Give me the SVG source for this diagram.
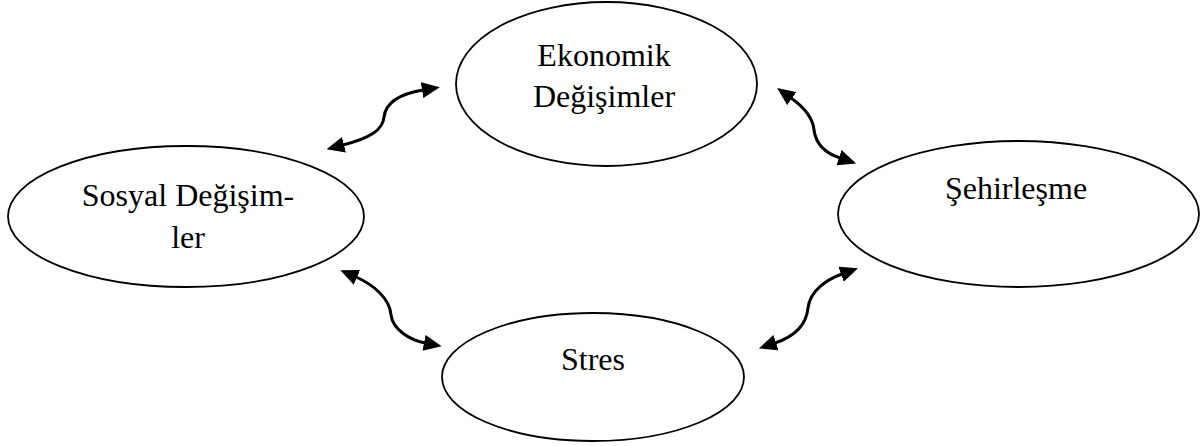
<svg xmlns="http://www.w3.org/2000/svg" width="1202" height="446" viewBox="0 0 1202 446">
  <style>
    .node { fill: #ffffff; stroke: #000000; stroke-width: 1.8; }
    .label { font-family: "Liberation Serif", "Times New Roman", serif; font-size: 32px; fill: #000000; text-anchor: middle; }
    .link { fill: none; stroke: #000000; stroke-width: 3; }
  </style>
  <defs>
    <!-- filled triangular head, base placed at the path end -->
    <marker id="head" viewBox="0 0 18 16" refX="1" refY="8" markerWidth="18" markerHeight="16" markerUnits="userSpaceOnUse" orient="auto-start-reverse">
      <path d="M0,0 L18,8 L0,16 z" fill="#000000"/>
    </marker>
  </defs>
  <rect width="1202" height="446" fill="#ffffff"/>

  <g id="ekonomik">
    <ellipse class="node" cx="606.5" cy="84" rx="150.5" ry="82"/>
    <text class="label" x="604" y="66">Ekonomik</text>
    <text class="label" x="604" y="107">Değişimler</text>
  </g>

  <g id="sosyal">
    <ellipse class="node" cx="186" cy="216.5" rx="178" ry="70.5"/>
    <text class="label" x="188" y="206">Sosyal Değişim-</text>
    <text class="label" x="188" y="248">ler</text>
  </g>

  <g id="sehirlesme">
    <ellipse class="node" cx="1018.5" cy="214" rx="180.5" ry="73"/>
    <text class="label" x="1016" y="199">Şehirleşme</text>
  </g>

  <g id="stres">
    <ellipse class="node" cx="593" cy="377" rx="151" ry="64"/>
    <text class="label" x="593" y="370">Stres</text>
  </g>

  <g id="connectors">
    <path class="link" d="M343,145 C370,138 383,130 384,117 C386,100 405,93 423,90" marker-start="url(#head)" marker-end="url(#head)"/>
    <path class="link" d="M791,98 C805,108 813,118 814,130 C816,146 828,154 840,158" marker-start="url(#head)" marker-end="url(#head)"/>
    <path class="link" d="M356,277 C372,284 390,298 391,315 C393,330 410,340 425,343" marker-start="url(#head)" marker-end="url(#head)"/>
    <path class="link" d="M842,274 C828,279 810,290 808,308 C806,328 790,338 775,343" marker-start="url(#head)" marker-end="url(#head)"/>
  </g>
</svg>
